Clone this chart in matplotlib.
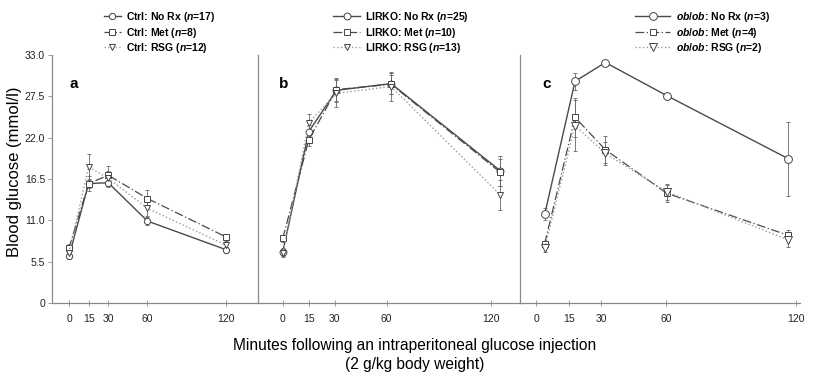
import matplotlib
matplotlib.use('Agg')
import matplotlib.pyplot as plt

plt.rcParams['font.family'] = ['Liberation Sans', 'DejaVu Sans']
plt.rcParams['mathtext.fontset'] = 'custom'
plt.rcParams['mathtext.it'] = 'Liberation Sans:italic:bold'
plt.rcParams['mathtext.rm'] = 'Liberation Sans:bold'

# minutes after injection (as plotted in each panel)
ticks = [0, 15, 30, 60, 120]
yticks = [0, 5.5, 11.0, 16.5, 22.0, 27.5, 33.0]
ytick_labels = ['0', '5.5', '11.0', '16.5', '22.0', '27.5', '33.0']

a_x = [0, 15, 30, 60, 120]
a_norx = [6.2, 15.9, 16.0, 10.9, 7.1]
a_norx_err = [0.4, 0.6, 0.6, 0.5, 0.4]
a_met = [7.3, 15.9, 17.0, 13.9, 8.8]
a_met_err = [0.5, 1.0, 1.2, 1.1, 0.4]
a_rsg = [6.7, 18.1, 16.6, 12.6, 7.7]
a_rsg_err = [0.4, 1.7, 1.0, 1.0, 0.5]

b_x = [0, 15, 31, 62.5, 125.5]
b_norx = [6.8, 22.8, 28.3, 29.2, 17.6]
b_norx_err = [0.5, 0.9, 1.5, 1.4, 2.0]
b_met = [8.6, 21.7, 28.4, 29.1, 17.4]
b_met_err = [0.5, 0.8, 1.5, 1.3, 1.8]
b_rsg = [6.6, 24.0, 27.9, 28.8, 14.4]
b_rsg_err = [0.5, 1.1, 1.8, 1.9, 2.0]

c_x = [4, 18, 32, 60.3, 116.4]
c_norx = [11.8, 29.5, 32.0, 27.6, 19.2]
c_norx_err = [0.8, 1.1, 0.2, 0.3, 4.9]
c_met = [7.9, 24.7, 20.4, 14.6, 9.0]
c_met_err = [0.4, 2.6, 1.8, 1.1, 0.7]
c_rsg = [7.3, 23.6, 19.9, 14.8, 8.4]
c_rsg_err = [0.5, 3.4, 1.5, 1.1, 1.0]

a_labels = [r'Ctrl: No Rx ($n$=17)', r'Ctrl: Met ($n$=8)', r'Ctrl: RSG ($n$=12)']
b_labels = [r'LIRKO: No Rx ($n$=25)', r'LIRKO: Met ($n$=10)', r'LIRKO: RSG ($n$=13)']
c_labels = [r'$ob$/$ob$: No Rx ($n$=3)', r'$ob$/$ob$: Met ($n$=4)', r'$ob$/$ob$: RSG ($n$=2)']

fig = plt.figure(figsize=(8.13, 3.82), dpi=100)
W, H = 813, 382
def box(l, r):
    return [l / W, (H - 303) / H, (r - l) / W, 248 / H]

panels = [
    dict(rect=box(52, 258), xlim=(-13.0, 144.5), x=a_x, letter='a',
         data=[(a_norx, a_norx_err), (a_met, a_met_err), (a_rsg, a_rsg_err)],
         labels=a_labels, leg=(104, 10), hl=1.6, ms=1.0),
    dict(rect=box(258, 520), xlim=(-14.3, 136.9), x=b_x, letter='b',
         data=[(b_norx, b_norx_err), (b_met, b_met_err), (b_rsg, b_rsg_err)],
         labels=b_labels, leg=(333, 10), hl=2.6, ms=1.1),
    dict(rect=box(520, 800), xlim=(-7.4, 121.8), x=c_x, letter='c',
         data=[(c_norx, c_norx_err), (c_met, c_met_err), (c_rsg, c_rsg_err)],
         labels=c_labels, leg=(635, 10), hl=3.4, ms=1.25),
]

styles = [
    dict(color='#4a4a4a', ls='-', marker='o', mfc='white', size=4.5, lw=1.0),
    dict(color='#4a4a4a', ls=(0, (7, 2, 1, 2)), marker='s', mfc='white', size=3.8, lw=0.9),
    dict(color='#9a9a9a', ls=':', marker='v', mfc='white', size=4.2, lw=1.0),
]

for i, p in enumerate(panels):
    ax = fig.add_axes(p['rect'])
    handles = []
    for (y, e), st, lab in zip(p['data'], styles, p['labels']):
        ax.errorbar(p['x'], y, yerr=e, fmt='none', ecolor='#666666',
                    elinewidth=0.6, capsize=1.6, capthick=0.6, zorder=2)
        h, = ax.plot(p['x'], y, color=st['color'], ls=st['ls'], lw=st['lw'],
                     marker=st['marker'], ms=st['size'] * p['ms'], mfc=st['mfc'],
                     mec='#444444', mew=0.7, zorder=3, label=lab)
        handles.append(h)
    ax.set_xlim(p['xlim'])
    ax.set_ylim(0, 33)
    ax.set_xticks(ticks)
    ax.set_xticklabels([str(t) for t in ticks])
    for s in ['top', 'right']:
        ax.spines[s].set_visible(False)
    for s in ['left', 'bottom']:
        ax.spines[s].set_color('#8a8a8a')
        ax.spines[s].set_linewidth(0.9)
    ax.tick_params(axis='x', direction='inout', length=4, width=0.6,
                   colors='#8a8a8a', labelcolor='#222222', labelsize=7.5, pad=6)
    if i == 0:
        ax.set_yticks(yticks)
        ax.set_yticklabels(ytick_labels)
        ax.tick_params(axis='y', direction='out', length=3, width=0.6,
                       colors='#8a8a8a', labelcolor='#222222', labelsize=7.5, pad=2)
    else:
        ax.set_yticks([])
    ax.text(0.085 if i == 0 else 0.08, 0.885, p['letter'], transform=ax.transAxes,
            fontsize=11, fontweight='bold', ha='left', va='center')
    lx, ly = p['leg']
    fig.legend(handles=handles, loc='upper left', bbox_to_anchor=(lx / W, 1 - ly / H),
               frameon=False, prop={'weight': 'bold', 'size': 7.5},
               handlelength=p['hl'], handletextpad=0.5, labelspacing=0.15,
               borderpad=0, borderaxespad=0)

fig.text(15 / W, 1 - 172 / H, 'Blood glucose (mmol/l)', rotation=90,
         ha='center', va='center', fontsize=12)
fig.text(415 / W, 1 - 355 / H,
         'Minutes following an intraperitoneal glucose injection\n(2 g/kg body weight)',
         ha='center', va='center', fontsize=11.2, linespacing=1.3)

fig.savefig('out.png', dpi=100)
